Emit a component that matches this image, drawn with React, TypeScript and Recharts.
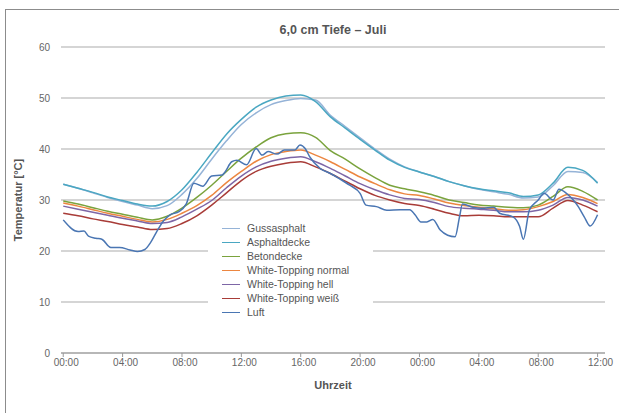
import React from "react";
import { LineChart, Line, XAxis, YAxis, CartesianGrid, Legend, Label } from "recharts";

const FONT = '"Liberation Sans", Arial, Helvetica, sans-serif';

// hours since 00:00 of day 1 (surface series sampled hourly)
const hours = [
  0, 1, 2, 3, 4, 5, 6, 7, 8, 9, 10, 11, 12, 13, 14, 15, 16, 17, 18, 19, 20,
  21, 22, 23, 24, 25, 26, 27, 28, 29, 30, 31, 32, 33, 34, 35, 36,
];

const gussasphalt = [
  33.1, 32.3, 31.4, 30.5, 29.7, 29.0, 28.3, 28.9, 31.1, 34.2, 38.0, 41.6, 44.8,
  47.1, 48.7, 49.5, 49.9, 49.6, 46.6, 44.4, 42.2, 40.0, 38.0, 36.5, 35.5, 34.6,
  33.6, 32.8, 32.1, 31.6, 31.1, 30.4, 30.6, 32.8, 35.6, 35.4, 33.4,
];
const asphaltdecke = [
  33.1, 32.3, 31.5, 30.6, 29.9, 29.2, 28.8, 29.7, 32.0, 35.4, 39.2, 42.9, 45.8,
  48.2, 49.6, 50.4, 50.6, 49.3, 46.3, 44.1, 41.9, 39.8, 37.8, 36.4, 35.5, 34.6,
  33.6, 32.8, 32.2, 31.8, 31.4, 30.7, 31.0, 33.3, 36.4, 35.8, 33.3,
];
const betondecke = [
  29.8, 29.2, 28.5, 27.8, 27.2, 26.6, 26.1, 26.8, 28.4, 30.5, 32.9, 35.6, 38.2,
  40.4, 42.2, 43.0, 43.2, 42.3, 39.7, 38.0, 36.1, 34.4, 32.9, 32.2, 31.6, 30.9,
  30.0, 29.5, 29.0, 28.8, 28.6, 28.5, 29.0, 30.7, 32.6, 31.7, 30.0,
];
const wtNormal = [
  29.4, 28.8, 28.1, 27.4, 26.8, 26.2, 25.7, 26.2, 27.4, 28.9, 30.9, 33.4, 35.6,
  37.6, 38.9, 39.5, 39.8, 38.8, 37.5, 36.0, 34.5, 33.2, 32.0, 31.2, 30.9, 30.2,
  29.4, 28.9, 28.6, 28.3, 28.0, 28.1, 28.7, 29.7, 31.1, 30.5, 29.3,
];
const wtHell = [
  28.8, 28.2, 27.6, 27.0, 26.4, 25.9, 25.4, 25.6, 26.7, 28.2, 29.9, 32.4, 34.7,
  36.5, 37.6, 38.2, 38.5, 37.5, 36.2, 34.7, 33.2, 32.0, 31.0, 30.3, 30.1, 29.5,
  28.7, 28.4, 28.2, 28.0, 27.7, 27.7, 28.0, 29.0, 30.5, 30.0, 28.8,
];
const wtWeiss = [
  27.4, 26.9, 26.3, 25.8, 25.2, 24.7, 24.2, 24.4, 25.4, 26.9, 29.0, 31.4, 33.8,
  35.6, 36.6, 37.2, 37.5, 36.5, 35.2, 33.7, 32.2, 30.9, 30.0, 29.3, 28.9, 28.2,
  27.4, 26.9, 27.0, 26.9, 26.7, 26.7, 26.7, 28.4, 29.9, 29.0, 27.7,
];

// air temperature, read at its turning points
const luftHours = [
  0, 1.0, 1.4, 1.7, 2.2, 2.6, 3.2, 3.8, 4.5, 5.0, 5.5, 5.85, 6.3, 6.75, 7.2,
  7.8, 8.3, 8.8, 9.4, 10.0, 10.7, 10.9, 11.35, 11.7, 12.35, 13.0, 13.4, 13.8,
  14.4, 14.9, 15.6, 15.95, 16.3, 16.6, 17.3, 18.0, 18.6, 19.3, 20.0, 20.4, 21.1,
  21.8, 22.7, 23.35, 23.7, 24.1, 24.5, 24.9, 25.4, 25.9, 26.4, 26.7, 26.9, 27.6,
  28.2, 29.0, 29.4, 30.3, 30.75, 31.0, 31.4, 32.0, 32.4, 33.0, 33.4, 33.9, 34.7,
  35.1, 35.5, 36.0,
];
const luft = [
  26.1, 23.8, 23.9, 22.9, 22.5, 22.3, 20.7, 20.7, 20.2, 19.9, 20.3, 21.5, 23.8,
  25.9, 27.1, 27.7, 29.3, 33.3, 32.7, 34.7, 34.9, 35.5, 37.5, 37.8, 36.9, 40.1,
  38.8, 39.5, 39.0, 39.8, 39.8, 40.8, 40.1, 38.5, 36.2, 35.2, 34.2, 32.9, 31.3,
  29.0, 28.7, 28.0, 28.1, 28.1, 27.1, 25.7, 25.7, 26.2, 24.1, 23.1, 22.8, 26.7,
  29.2, 28.6, 28.4, 28.6, 27.4, 26.7, 24.8, 22.3, 28.0, 30.0, 31.3, 30.0, 32.1,
  31.3, 28.7, 26.7, 24.9, 27.1,
];

const xTicks = [0, 4, 8, 12, 16, 20, 24, 28, 32, 36];
const yTicks = [0, 10, 20, 30, 40, 50, 60];

const series = [
  { key: "gussasphalt", name: "Gussasphalt", color: "#95b3d7", values: gussasphalt },
  { key: "asphaltdecke", name: "Asphaltdecke", color: "#4aa7c2", values: asphaltdecke },
  { key: "betondecke", name: "Betondecke", color: "#7aa33d", values: betondecke },
  { key: "wtNormal", name: "White-Topping normal", color: "#ec8640", values: wtNormal },
  { key: "wtHell", name: "White-Topping hell", color: "#7d66a6", values: wtHell },
  { key: "wtWeiss", name: "White-Topping weiß", color: "#a83c38", values: wtWeiss },
];
const LUFT_COLOR = "#4a76b3";
const legendOrder = [...series.map((s) => s.name), "Luft"];

const rows = hours.map((h, i) => {
  const row: Record<string, number> = { h };
  series.forEach((s) => (row[s.key] = s.values[i]));
  return row;
});
const luftRows = luftHours.map((h, i) => ({ h, luft: luft[i] }));

const fmtHour = (h: number) => `${String(h % 24).padStart(2, "0")}:00`;

function LegendBox({ payload }: any) {
  const items = [...(payload || [])].sort(
    (a: any, b: any) => legendOrder.indexOf(a.value) - legendOrder.indexOf(b.value)
  );
  return (
    <div
      style={{
        background: "#fff",
        width: 151,
        padding: "2px 0 2px 14px",
        fontFamily: FONT,
        fontSize: 10.5,
        color: "#555",
      }}
    >
      {items.map((p: any) => (
        <div key={p.value} style={{ display: "flex", alignItems: "center", height: 14 }}>
          <span
            style={{
              display: "inline-block",
              width: 18,
              borderTop: `1.5px solid ${p.color}`,
              marginRight: 7,
            }}
          />
          {p.value}
        </div>
      ))}
    </div>
  );
}

export default function App() {
  return (
    <div
      style={{
        position: "absolute",
        left: 0,
        top: 0,
        width: 619,
        height: 413,
        overflow: "hidden",
        background: "#fff",
        fontFamily: FONT,
      }}
    >
      <div
        style={{
          position: "absolute",
          left: 5,
          top: 9,
          width: 700,
          height: 500,
          border: "1px solid #8c8c8c",
        }}
      />
      <div
        style={{
          position: "absolute",
          left: 233,
          top: 23,
          width: 200,
          textAlign: "center",
          fontWeight: "bold",
          fontSize: 12.5,
          color: "#555",
        }}
      >
        6,0 cm Tiefe – Juli
      </div>
      <div style={{ position: "absolute", left: 0, top: 0 }}>
        <LineChart
          width={619}
          height={413}
          data={rows}
          margin={{ top: 47, right: 14, bottom: 0, left: 31 }}
        >
          <CartesianGrid vertical={false} stroke="#ababab" strokeWidth={1.2} />
          <XAxis
            dataKey="h"
            type="number"
            domain={[-0.15, 36.5]}
            allowDataOverflow
            ticks={xTicks}
            interval={0}
            tickFormatter={fmtHour}
            height={60}
            axisLine={{ stroke: "#999" }}
            tickLine={{ stroke: "#999" }}
            tickSize={4}
            tickMargin={2}
            tick={{ fill: "#666", fontSize: 10, fontFamily: FONT, dx: 3 }}
          >
            <Label
              value="Uhrzeit"
              position="insideBottom"
              offset={24}
              style={{ fontWeight: "bold", fill: "#555", fontSize: 11, fontFamily: FONT }}
            />
          </XAxis>
          <YAxis
            domain={[0, 60]}
            ticks={yTicks}
            width={30}
            axisLine={false}
            tickLine={false}
            tickMargin={5}
            tick={{ fill: "#666", fontSize: 10, fontFamily: FONT }}
          >
            <Label
              content={() => (
                <text
                  transform="translate(18,200) rotate(-90)"
                  textAnchor="middle"
                  dominantBaseline="central"
                  style={{ fontWeight: "bold", fill: "#555", fontSize: 11, fontFamily: FONT }}
                >
                  Temperatur [°C]
                </text>
              )}
            />
          </YAxis>
          {series.map((s) => (
            <Line
              key={s.key}
              type="monotone"
              dataKey={s.key}
              name={s.name}
              stroke={s.color}
              strokeWidth={1.5}
              dot={false}
              isAnimationActive={false}
            />
          ))}
          <Line
            type="monotone"
            data={luftRows}
            dataKey="luft"
            name="Luft"
            stroke={LUFT_COLOR}
            strokeWidth={1.5}
            dot={false}
            isAnimationActive={false}
          />
          <Legend
            layout="vertical"
            align="center"
            verticalAlign="middle"
            content={LegendBox}
            wrapperStyle={{ left: 208, top: 219, width: 165 }}
          />
        </LineChart>
      </div>
    </div>
  );
}
